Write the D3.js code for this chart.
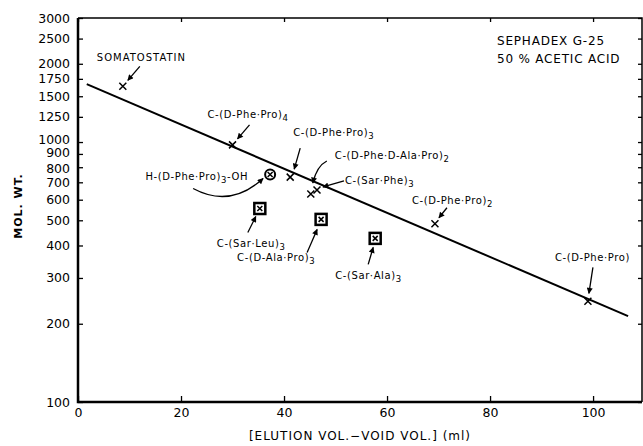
<!DOCTYPE html>
<html>
<head>
<meta charset="utf-8">
<script src="https://cdn.jsdelivr.net/npm/d3@7"></script>
<style>
  body { margin: 0; background: #fff; }
  text { font-family: "DejaVu Sans", sans-serif; fill: #000; }
</style>
</head>
<body>
<script>
// data
var xTicks = [0, 20, 40, 60, 80, 100];
var yTicks = [100, 200, 300, 400, 500, 600, 700, 800, 900, 1000, 1250, 1500, 1750, 2000, 2500, 3000];

var fitX = [1.7, 106.8];
var fitY = [1670, 214];

var names = ["SOMATOSTATIN", "C-(D-Phe·Pro)|4", "C-(D-Phe·Pro)|3", "C-(D-Phe·D-Ala·Pro)|2",
	"C-(Sar·Phe)|3", "C-(D-Phe·Pro)|2", "C-(D-Phe·Pro)", "H-(D-Phe·Pro)|3|-OH",
	"C-(Sar·Leu)|3", "C-(D-Ala·Pro)|3", "C-(Sar·Ala)|3"];
var elution = [8.7, 30.0, 41.2, 45.2, 46.4, 69.3, 99.0, 37.3, 35.3, 47.2, 57.7];
var molWt = [1638, 975, 733, 631, 654, 485, 244, 750, 555, 504, 426];
var kind = ["x", "x", "x", "x", "x", "x", "x", "circle", "box", "box", "box"];

// label / arrow layout, pixel offsets from each point
var layout = [
	{ lx: -26, ly: -25, a: [17, -20, 5, -6] },
	{ lx: -25, ly: -27, a: [17, -20, 5, -6] },
	{ lx: 3, ly: -41, a: [10, -29, 4, -8] },
	{ lx: 24, ly: -35, a: [16, -33, 2, -11], c: [6, -28] },
	{ lx: 28, ly: -6, a: [27, -9, 6, -3] },
	{ lx: -23, ly: -20, a: [12, -16, 4, -6] },
	{ lx: -33, ly: -40, a: [5, -34, 1, -8] },
	{ lx: -22, ly: 5, anchor: "end", a: [-77, 14, -7, 4], c: [-40, 34] },
	{ lx: -43, ly: 38, a: [-12, 24, -4, 8] },
	{ lx: -84, ly: 42, a: [-14, 33, -4, 10] },
	{ lx: -40, ly: 41, a: [-7, 26, -2, 9] }
];
// crowded tick labels are nudged a little, as on the original
var tickNudge = { 1000: -3, 900: -1, 800: 1 };

var width = 643, height = 446;
var padL = 78, padR = 642, padT = 18, padB = 402;

var svg = d3.select("body").append("svg")
	.attr("width", width)
	.attr("height", height);

svg.append("defs").append("marker")
	.attr("id", "head")
	.attr("markerUnits", "userSpaceOnUse")
	.attr("viewBox", "0 0 10 10")
	.attr("refX", 9)
	.attr("refY", 5)
	.attr("markerWidth", 8)
	.attr("markerHeight", 6)
	.attr("orient", "auto")
	.append("path")
	.attr("d", "M0,0L10,5L0,10z")
	.attr("fill", "#000");

var x = d3.scaleLinear().domain([0, 109.5]).range([padL, padR]);
var y = d3.scaleLog().domain([100, 3000]).range([padB, padT]);

// axes
var gx = svg.append("g")
	.attr("transform", "translate(0," + padB + ")")
	.call(d3.axisBottom(x).tickValues(xTicks).tickSize(-6).tickPadding(6));
var gy = svg.append("g")
	.attr("transform", "translate(" + padL + ",0)")
	.call(d3.axisLeft(y).tickValues(yTicks).tickSize(-5).tickPadding(8).tickFormat(d3.format("d")));
svg.append("g")
	.attr("transform", "translate(" + padR + ",0)")
	.call(d3.axisRight(y).tickValues(yTicks).tickSize(-4).tickFormat(""));
svg.append("g")
	.attr("transform", "translate(0," + padT + ")")
	.call(d3.axisTop(x).tickValues(xTicks).tickSize(-4).tickFormat(""));

svg.selectAll(".domain").remove();
svg.selectAll(".tick line").attr("stroke", "#000").attr("stroke-width", 1.3);
gx.selectAll("text").style("font-size", "12.5px").attr("fill", "#000");
gy.selectAll("text").style("font-size", "12.5px").attr("fill", "#000")
	.attr("y", function (d) { return tickNudge[d] || 0; });

// frame
svg.append("path")
	.attr("d", "M" + padL + "," + padT + "H" + padR + "V" + padB)
	.attr("fill", "none")
	.attr("stroke", "#000")
	.attr("stroke-width", 1.5);
svg.append("path")
	.attr("d", "M" + padL + "," + padT + "V" + padB + "H" + padR)
	.attr("fill", "none")
	.attr("stroke", "#000")
	.attr("stroke-width", 2.5);

// axis titles
svg.append("text")
	.attr("transform", "translate(22,206) rotate(-90)")
	.attr("text-anchor", "middle")
	.style("font-size", "11px")
	.style("font-weight", "bold")
	.style("letter-spacing", "1px")
	.text("MOL. WT.");

svg.append("text")
	.attr("x", 360)
	.attr("y", 440)
	.attr("text-anchor", "middle")
	.style("font-size", "12px")
	.style("letter-spacing", "1px")
	.text("[ELUTION VOL.\u2212VOID VOL.] (ml)");

// conditions
var cond = svg.append("text")
	.style("font-size", "12px")
	.style("letter-spacing", "0.8px");
cond.append("tspan").attr("x", 497).attr("y", 45).text("SEPHADEX G-25");
cond.append("tspan").attr("x", 497).attr("y", 63).text("50 % ACETIC ACID");

// regression line
svg.append("path")
	.datum(d3.zip(fitX, fitY))
	.attr("d", d3.line().x(function (d) { return x(d[0]); }).y(function (d) { return y(d[1]); }))
	.attr("fill", "none")
	.attr("stroke", "#000")
	.attr("stroke-width", 2);

// points
var pts = names.map(function (n, i) {
	return { name: n, px: x(elution[i]), py: y(molWt[i]), kind: kind[i], lay: layout[i] };
});

var g = svg.selectAll("g.pt")
	.data(pts)
	.enter()
	.append("g")
	.attr("class", "pt")
	.attr("transform", function (d) { return "translate(" + d.px + "," + d.py + ")"; });

g.filter(function (d) { return d.kind === "box"; })
	.append("rect")
	.attr("x", -5.5).attr("y", -5.5)
	.attr("width", 11).attr("height", 11)
	.attr("fill", "#fff")
	.attr("stroke", "#000")
	.attr("stroke-width", 2.5);

g.filter(function (d) { return d.kind === "circle"; })
	.append("circle")
	.attr("r", 5)
	.attr("fill", "#fff")
	.attr("stroke", "#000")
	.attr("stroke-width", 2);

g.append("path")
	.attr("d", function (d) {
		var s = d.kind === "x" ? 3.5 : 2.5;
		return "M" + (-s) + "," + (-s) + "L" + s + "," + s + "M" + (-s) + "," + s + "L" + s + "," + (-s);
	})
	.attr("stroke", "#000")
	.attr("stroke-width", 1.5);

// arrows
g.append("path")
	.attr("d", function (d) {
		var a = d.lay.a;
		if (d.lay.c) {
			return "M" + a[0] + "," + a[1] + "Q" + d.lay.c[0] + "," + d.lay.c[1] + " " + a[2] + "," + a[3];
		}
		return "M" + a[0] + "," + a[1] + "L" + a[2] + "," + a[3];
	})
	.attr("fill", "none")
	.attr("stroke", "#000")
	.attr("stroke-width", 1.3)
	.attr("marker-end", "url(#head)");

// labels with subscripts
var lab = g.append("text")
	.attr("x", function (d) { return d.lay.lx; })
	.attr("y", function (d) { return d.lay.ly; })
	.attr("text-anchor", function (d) { return d.lay.anchor || "start"; })
	.style("font-size", "10px")
	.style("letter-spacing", function (d) { return d.name === "SOMATOSTATIN" ? "1px" : "0.6px"; });

lab.each(function (d) {
	var parts = d.name.split("|");
	var t = d3.select(this);
	t.append("tspan").text(parts[0]);
	if (parts[1]) t.append("tspan").attr("dy", 3).style("font-size", "8.5px").text(parts[1]);
	if (parts[2]) t.append("tspan").attr("dy", -3).text(parts[2]);
});
</script>
</body>
</html>
